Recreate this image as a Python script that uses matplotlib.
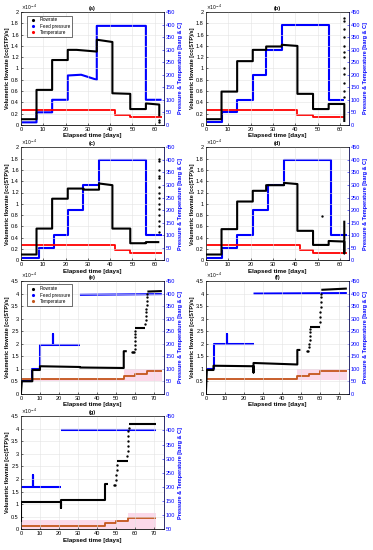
import matplotlib.pyplot as plt
from matplotlib.lines import Line2D

plt.rcParams['font.family'] = ['Liberation Sans', 'DejaVu Sans']

# ---- panel data (flowrate in 1e-4 cc(STP)/s, pressure in barg, temperature in C) ----
# (a)
a_flow_t = [0, 7, 7, 14, 14, 21, 21, 25, 34, 34, 41, 41, 49, 49, 56, 56, 62, 62]
a_flow_v = [0.10, 0.10, 0.62, 0.62, 1.15, 1.15, 1.33, 1.33, 1.30, 1.51, 1.47, 0.56, 0.55, 0.28, 0.28, 0.38, 0.36, 0.15]
a_pres_t = [0, 7, 7, 14, 14, 21, 21, 27, 34, 34, 56, 56, 63]
a_pres_v = [10, 10, 50, 50, 100, 100, 197, 200, 180, 395, 395, 100, 100]
a_temp_t = [0, 42, 42, 49, 49, 63]
a_temp_v = [60, 60, 40, 40, 30, 30]
a_dots_t = [62, 62]
a_dots_v = [0.08, 0.05]

# (b)
b_flow_t = [0, 7, 7, 14, 14, 21, 21, 27, 27, 34, 34, 41, 41, 48, 48, 55, 55, 62, 62]
b_flow_v = [0.10, 0.10, 0.59, 0.59, 1.13, 1.13, 1.33, 1.33, 1.39, 1.39, 1.42, 1.40, 0.55, 0.55, 0.28, 0.28, 0.37, 0.37, 0.05]
b_pres_t = [0, 7, 7, 14, 14, 21, 21, 27, 27, 34, 34, 55, 55, 62]
b_pres_v = [10, 10, 50, 50, 100, 100, 200, 200, 300, 300, 400, 400, 100, 100]
b_temp_t = [0, 41, 41, 48, 48, 62.5]
b_temp_v = [60, 60, 40, 40, 30, 30]
b_dots_t = [62] * 12
b_dots_v = [1.9, 1.85, 1.7, 1.55, 1.4, 1.3, 1.2, 1.0, 0.9, 0.75, 0.6, 0.5]

# (c)
c_flow_t = [0, 7, 7, 14, 14, 21, 21, 28, 28, 35, 35, 41, 41, 49, 49, 56, 56, 62]
c_flow_v = [0.10, 0.10, 0.56, 0.56, 1.09, 1.09, 1.27, 1.27, 1.25, 1.25, 1.36, 1.33, 0.56, 0.56, 0.30, 0.30, 0.32, 0.32]
c_pres_t = [0, 8, 8, 15, 15, 21, 21, 28, 28, 35, 35, 56, 56, 63]
c_pres_v = [10, 10, 50, 50, 100, 100, 200, 200, 300, 300, 400, 400, 100, 100]
c_temp_t = [0, 42, 42, 49, 49, 63]
c_temp_v = [60, 60, 40, 40, 30, 30]
c_dots_t = [62] * 14
c_dots_v = [1.8, 1.75, 1.6, 1.5, 1.45, 1.3, 1.2, 1.1, 1.0, 0.9, 0.8, 0.7, 0.6, 0.5]

# (d)
d_flow_t = [0, 7, 7, 14, 14, 21, 21, 27, 27, 35, 35, 41, 41, 48, 48, 55, 55, 62, 62, 62]
d_flow_v = [0.10, 0.10, 0.55, 0.55, 1.04, 1.04, 1.23, 1.23, 1.33, 1.33, 1.37, 1.35, 0.52, 0.52, 0.27, 0.27, 0.34, 0.33, 0.12, 0.70]
d_pres_t = [0, 7, 7, 14, 14, 21, 21, 28, 28, 35, 35, 56, 56, 63]
d_pres_v = [10, 10, 50, 50, 100, 100, 200, 200, 300, 300, 400, 400, 100, 100]
d_temp_t = [0, 42, 42, 48, 48, 63]
d_temp_v = [60, 60, 40, 40, 30, 30]
d_dots_t = [52]
d_dots_v = [0.78]

# (e)
e_flow_t = [0, 0.5, 6, 6, 10, 10, 31, 31, 54, 54, 55.6]
e_flow_v = [0.0, 0.50, 0.50, 0.95, 0.95, 1.10, 1.07, 1.05, 1.03, 1.70, 1.70]
e_flow2_t = [60, 65.3]
e_flow2_v = [2.63, 2.63]
e_flow3_t = [66.4, 74]
e_flow3_v = [4.08, 4.10]
e_pres_t = [0, 6, 6, 10, 10, 17, 17, 17, 31]
e_pres_v = [50, 50, 100, 100, 195, 195, 240, 195, 195]
e_pres2_t = [31, 74]
e_pres2_v = [395, 398]
e_temp_t = [0, 54, 54, 60, 60, 66, 66, 74]
e_temp_v = [60, 60, 70, 70, 80, 80, 90, 90]
e_band_t = [0, 54, 54, 74]
e_band_lo = [50, 50, 50, 50]
e_band_hi = [65, 65, 100, 100]
e_dots_t = [58.2, 58.8, 59.4, 59.7, 59.8, 59.85, 59.9, 59.95, 60.0, 65.4, 65.6, 65.7, 65.8, 65.9, 66.0, 66.1, 66.2, 66.3]
e_dots_v = [1.68, 1.68, 1.68, 1.80, 1.95, 2.10, 2.25, 2.40, 2.52, 2.80, 2.95, 3.10, 3.25, 3.40, 3.55, 3.70, 3.85, 3.98]

# (f)
f_flow_t = [0, 0.5, 4, 4, 25, 25, 25, 48, 48, 49.6]
f_flow_v = [0.0, 0.95, 0.95, 1.12, 1.10, 0.85, 1.23, 1.17, 1.75, 1.75]
f_flow2_t = [54.8, 59.8]
f_flow2_v = [2.68, 2.68]
f_flow3_t = [60.6, 74]
f_flow3_v = [4.15, 4.20]
f_pres_t = [0, 4, 4, 11, 11, 11, 25]
f_pres_v = [100, 100, 200, 200, 240, 200, 200]
f_pres2_t = [25, 74]
f_pres2_v = [400, 402]
f_temp_t = [0, 48, 48, 54, 54, 60, 60, 74]
f_temp_v = [60, 60, 70, 70, 80, 80, 90, 90]
f_band_t = [0, 48, 48, 74]
f_band_lo = [55, 55, 55, 55]
f_band_hi = [65, 65, 100, 100]
f_dots_t = [53.0, 53.6, 54.2, 54.3, 54.4, 54.5, 54.6, 54.7, 59.9, 60.0, 60.1, 60.2, 60.3, 60.4, 60.5]
f_dots_v = [1.72, 1.72, 1.85, 2.00, 2.15, 2.30, 2.45, 2.58, 2.85, 3.05, 3.25, 3.45, 3.65, 3.85, 4.00]

# (g)
g_flow_t = [0, 0, 21, 21, 21, 44, 44, 45.8]
g_flow_v = [0.3, 1.10, 1.10, 0.85, 1.17, 1.17, 1.80, 1.80]
g_flow2_t = [50.4, 56]
g_flow2_v = [2.72, 2.72]
g_flow3_t = [56.6, 71]
g_flow3_v = [4.20, 4.20]
g_pres_t = [0, 6.5, 6.5, 6.5, 21]
g_pres_v = [199, 199, 242, 199, 199]
g_pres2_t = [21, 71]
g_pres2_v = [400, 400]
g_temp_t = [0, 44, 44, 50, 50, 56, 56, 71]
g_temp_v = [60, 60, 70, 70, 80, 80, 91, 91]
g_band_t = [0, 56, 56, 71]
g_band_lo = [50, 50, 50, 50]
g_band_hi = [81, 81, 108, 108]
g_dots_t = [49.0, 49.6, 50.0, 50.1, 50.2, 50.3, 55.9, 56.0, 56.1, 56.2, 56.3, 56.4, 56.5]
g_dots_v = [1.77, 1.77, 1.95, 2.15, 2.35, 2.55, 2.90, 3.10, 3.30, 3.50, 3.70, 3.90, 4.05]

BLUE = '#0000ff'
FS = 4


def draw_panel(ax, label, flows, pressures, temp, dots, band, xlim, xticks,
               fmax, fticks, rlim, rticks, temp_color='red', legend=False):
    ax.set_xlim(*xlim)
    ax.set_ylim(0, fmax)
    ax.set_xticks(xticks)
    ax.set_yticks(fticks)
    ax.set_yticklabels([f'{v:g}' for v in fticks])
    ax.grid(True, color='#e3e3e3', lw=0.4)
    ax.set_axisbelow(True)
    ax.tick_params(labelsize=FS, direction='in', length=1.5, width=0.4, pad=1.5)
    for s in ax.spines.values():
        s.set_linewidth(0.4)
    ax.set_title(label, fontsize=FS, fontweight='bold', pad=1.5)
    ax.set_xlabel('Elapsed time [days]', fontsize=FS + 0.5, fontweight='bold', labelpad=1)
    ax.set_ylabel('Volumetric flowrate [cc(STP)/s]', fontsize=FS, fontweight='bold', labelpad=1)
    ax.text(0.0, 1.005, r'$\times10^{-4}$', transform=ax.transAxes, fontsize=3.3,
            ha='left', va='bottom')

    ax2 = ax.twinx()
    ax2.set_ylim(*rlim)
    ax2.set_yticks(rticks)
    ax2.tick_params(labelsize=FS, direction='in', length=1.5, width=0.4, pad=1.5,
                    colors=BLUE)
    ax2.spines['right'].set_color(BLUE)
    for s in ax2.spines.values():
        s.set_linewidth(0.4)
    ax2.set_ylabel('Pressure & Temperature [barg & C]', fontsize=FS, fontweight='bold',
                   color=BLUE, labelpad=2)

    if band is not None:
        bt, blo, bhi = band
        ax2.fill_between(bt, blo, bhi, color='#fbd9ea', lw=0, zorder=0)
    for t, v in pressures:
        ax2.plot(t, v, color=BLUE, lw=1.5, solid_capstyle='butt')
    ax2.plot(temp[0], temp[1], color=temp_color, lw=1.3, solid_capstyle='butt')
    for t, v in flows:
        ax2.plot([], [])
        ax.plot(t, v, color='black', lw=1.5, solid_capstyle='butt', zorder=5)
    ax.plot(dots[0], dots[1], ls='none', marker='.', ms=1.4, color='black', zorder=5)
    ax.set_zorder(ax2.get_zorder() + 1)
    ax.patch.set_visible(False)

    if legend:
        handles = [Line2D([], [], ls='none', marker='.', ms=2.5, color='black'),
                   Line2D([], [], ls='none', marker='.', ms=2.5, color=BLUE),
                   Line2D([], [], ls='none', marker='.', ms=2.5, color=temp_color)]
        ax.legend(handles, ['Flowrate', 'Feed pressure', 'Temperature'], loc='upper left',
                  fontsize=3.3, frameon=True, fancybox=False, edgecolor='black',
                  framealpha=1, handlelength=1.5, borderpad=0.4, labelspacing=0.3,
                  bbox_to_anchor=(0.03, 0.99)).get_frame().set_linewidth(0.4)


fig = plt.figure(figsize=(3.73, 5.5), dpi=100)
W, H = 0.383, 0.205
lefts = [0.056, 0.552]
bottoms = [0.773, 0.527, 0.284, 0.038]

x1 = (0, 64)
xt1 = [0, 10, 20, 30, 40, 50, 60]
ft1 = [0, 0.2, 0.4, 0.6, 0.8, 1, 1.2, 1.4, 1.6, 1.8, 2]
rt1 = list(range(0, 451, 50))
x2 = (0, 75)
xt2 = [0, 10, 20, 30, 40, 50, 60, 70]
ft2 = [0, 0.5, 1, 1.5, 2, 2.5, 3, 3.5, 4, 4.5]

ax = fig.add_axes([lefts[0], bottoms[0], W, H])
draw_panel(ax, '(a)', [(a_flow_t, a_flow_v)], [(a_pres_t, a_pres_v)], (a_temp_t, a_temp_v),
           (a_dots_t, a_dots_v), None, x1, xt1, 2, ft1, (0, 450), rt1, legend=True)
ax = fig.add_axes([lefts[1], bottoms[0], W, H])
draw_panel(ax, '(b)', [(b_flow_t, b_flow_v)], [(b_pres_t, b_pres_v)], (b_temp_t, b_temp_v),
           (b_dots_t, b_dots_v), None, x1, xt1, 2, ft1, (0, 450), rt1)
ax = fig.add_axes([lefts[0], bottoms[1], W, H])
draw_panel(ax, '(c)', [(c_flow_t, c_flow_v)], [(c_pres_t, c_pres_v)], (c_temp_t, c_temp_v),
           (c_dots_t, c_dots_v), None, x1, xt1, 2, ft1, (0, 450), rt1)
ax = fig.add_axes([lefts[1], bottoms[1], W, H])
draw_panel(ax, '(d)', [(d_flow_t, d_flow_v)], [(d_pres_t, d_pres_v)], (d_temp_t, d_temp_v),
           (d_dots_t, d_dots_v), None, x1, xt1, 2, ft1, (0, 450), rt1)

TEMP2 = '#c4561c'
ax = fig.add_axes([lefts[0], bottoms[2], W, H])
draw_panel(ax, '(e)', [(e_flow_t, e_flow_v), (e_flow2_t, e_flow2_v), (e_flow3_t, e_flow3_v)],
           [(e_pres_t, e_pres_v), (e_pres2_t, e_pres2_v)], (e_temp_t, e_temp_v),
           (e_dots_t, e_dots_v), (e_band_t, e_band_lo, e_band_hi), x2, xt2, 4.5, ft2,
           (0, 450), rt1, temp_color=TEMP2, legend=True)
ax = fig.add_axes([lefts[1], bottoms[2], W, H])
draw_panel(ax, '(f)', [(f_flow_t, f_flow_v), (f_flow2_t, f_flow2_v), (f_flow3_t, f_flow3_v)],
           [(f_pres_t, f_pres_v), (f_pres2_t, f_pres2_v)], (f_temp_t, f_temp_v),
           (f_dots_t, f_dots_v), (f_band_t, f_band_lo, f_band_hi), x2, xt2, 4.5, ft2,
           (0, 450), rt1, temp_color=TEMP2)
ax = fig.add_axes([lefts[0], bottoms[3], W, H])
draw_panel(ax, '(g)', [(g_flow_t, g_flow_v), (g_flow2_t, g_flow2_v), (g_flow3_t, g_flow3_v)],
           [(g_pres_t, g_pres_v), (g_pres2_t, g_pres2_v)], (g_temp_t, g_temp_v),
           (g_dots_t, g_dots_v), (g_band_t, g_band_lo, g_band_hi), x2, xt2, 4.5, ft2,
           (50, 450), list(range(50, 451, 50)), temp_color=TEMP2)

fig.savefig('out.png', dpi=100)
